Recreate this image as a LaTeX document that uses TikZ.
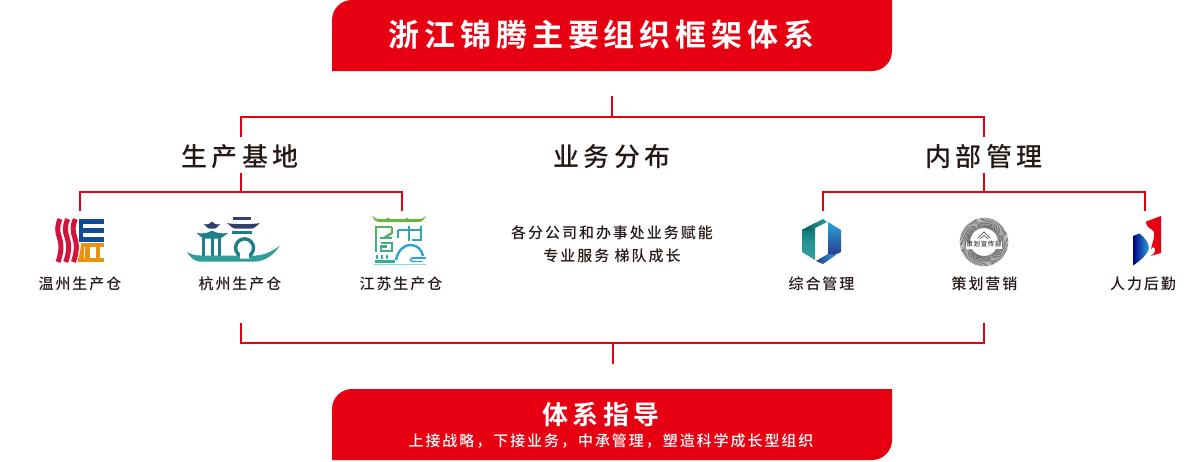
\documentclass[tikz,border=0pt]{standalone}
\usepackage{fontspec}
\setmainfont{Noto Sans CJK SC}
\newfontfamily\ftitle[LetterSpace=15.6]{Noto Sans CJK SC Bold}
\newfontfamily\fguide[LetterSpace=16.5]{Noto Sans CJK SC Bold}
\newfontfamily\fsub[LetterSpace=13]{Noto Sans CJK SC Medium}
\newfontfamily\fhead[LetterSpace=17]{Noto Sans CJK SC Medium}
\newfontfamily\flab[LetterSpace=13.2]{Noto Sans CJK SC Medium}
\newfontfamily\ftiny[LetterSpace=10]{Noto Sans CJK SC Medium}
\definecolor{brandred}{HTML}{E60012}
\definecolor{ink}{HTML}{231815}
\definecolor{wzred}{HTML}{D2143C}
\definecolor{wzblue}{HTML}{0F4C96}
\definecolor{wzorange}{HTML}{E8930F}
\definecolor{hznavy}{HTML}{33406E}
\definecolor{hzteal}{HTML}{1E7F8C}
\definecolor{hzsea}{HTML}{2F9E99}
\definecolor{jsgreen}{HTML}{6DB33F}
\definecolor{jsteal}{HTML}{35A99A}
\definecolor{jsblue}{HTML}{2AA3D6}
\tikzset{
  x=1pt,y=-1pt,
  redline/.style={draw=brandred,line width=2pt},
  banner/.style={fill=brandred},
  headtext/.style={inner sep=0,text=ink,font=\fontsize{26}{30}\selectfont\fhead},
  labeltext/.style={inner sep=0,text=ink,font=\fontsize{15}{18}\selectfont\flab},
}
\begin{document}
\begin{tikzpicture}
\useasboundingbox (0,0) rectangle (1200,461);
% banners
\fill[banner] (352,0) -- (892,0) -- (892,51) arc[start angle=0,end angle=90,radius=20] -- (332,71) -- (332,20) arc[start angle=180,end angle=270,radius=20] -- cycle;
\fill[banner] (352,389) -- (892,389) -- (892,440) arc[start angle=0,end angle=90,radius=20] -- (332,460) -- (332,409) arc[start angle=180,end angle=270,radius=20] -- cycle;
\node[inner sep=0,text=white,font=\fontsize{31}{34}\selectfont\ftitle] (title) at (601.5,35) {浙江锦腾主要组织框架体系};
\node[inner sep=0,text=white,font=\fontsize{26}{30}\selectfont\fguide] (guide) at (601,415) {体系指导};
\node[inner sep=0,text=white,font=\fontsize{15}{18}\selectfont\fsub] (guidesub) at (611,441) {上接战略，下接业务，中承管理，塑造科学成长型组织};
% headings
\node[headtext] (hbase) at (240,157) {生产基地};
\node[headtext] (hbiz) at (612,157) {业务分布};
\node[headtext] (hmgmt) at (984,157) {内部管理};
% labels
\node[labeltext] (wz) at (80,283.5) {温州生产仓};
\node[labeltext] (hz) at (240,283.5) {杭州生产仓};
\node[labeltext] (js) at (401,283.5) {江苏生产仓};
\node[labeltext] (zh) at (821.5,283.5) {综合管理};
\node[labeltext] (ch) at (984.5,283.5) {策划营销};
\node[labeltext] (rl) at (1143,283.5) {人力后勤};
\node[labeltext] (biz1) at (612,232.5) {各分公司和办事处业务赋能};
\node[labeltext] (biz2) at (612,255.5) {专业服务 梯队成长};
% connector points
\coordinate (topstub) at (612,96);
\coordinate (topmid) at (612,117);
\coordinate (tl) at (240.5,117);
\coordinate (tr) at (984,117);
\coordinate (tlend) at (240.5,137);
\coordinate (trend) at (984,137);
\coordinate (lstub) at (240.5,173);
\coordinate (lmid) at (240.5,192);
\coordinate (lw) at (80,192);
\coordinate (le) at (402,192);
\coordinate (lwend) at (80,211);
\coordinate (leend) at (402,211);
\coordinate (rstub) at (984,173);
\coordinate (rmid) at (984,192);
\coordinate (rw) at (823,192);
\coordinate (re) at (1145,192);
\coordinate (rwend) at (823,211);
\coordinate (reend) at (1145,211);
\coordinate (bl) at (241,323);
\coordinate (br) at (984,323);
\coordinate (blc) at (241,343);
\coordinate (brc) at (984,343);
\coordinate (bmid) at (613,343);
\coordinate (bstub) at (613,364);
\draw[redline] (topstub) -- (topmid);
\draw[redline] (tlend) -- (tl) -- (tr) -- (trend);
\draw[redline] (lstub) -- (lmid);
\draw[redline] (lwend) -- (lw) -- (le) -- (leend);
\draw[redline] (rstub) -- (rmid);
\draw[redline] (rwend) -- (rw) -- (re) -- (reend);
\draw[redline] (bl) -- (blc) -- (brc) -- (br);
\draw[redline] (bmid) -- (bstub);
% --- Wenzhou logo
\foreach \dx in {0,7.7,15.4}{
  \draw[wzred,line width=5pt] (60+\dx,219) .. controls (57+\dx,226) and (57+\dx,231) .. (59.5+\dx,238) .. controls (62+\dx,245) and (61+\dx,254) .. (58+\dx,262);
}
\fill[wzblue] (78.5,219) rectangle (104,223.6);
\fill[wzblue] (78.5,219) rectangle (83,241.5);
\fill[wzblue] (83,228.4) rectangle (104,232.8);
\fill[wzblue] (83,237.4) rectangle (104,241.5);
\fill[wzorange] (81,242.5) rectangle (104,246.5);
\fill[wzorange] (78,258) rectangle (104,262);
\fill[wzorange] (85,246) rectangle (89.5,259);
\fill[wzorange] (95.5,246) rectangle (100,259);
\fill[wzorange] (78,262) -- (81,246) -- (84,246) -- (84,262) -- cycle;
% --- Hangzhou logo
\fill[hznavy] (233,216.5) rectangle (251,219.5);
\fill[hznavy] (227,223) .. controls (232,224.5) and (254,224.5) .. (260,223) .. controls (257,225) and (255,228.5) .. (252,228.5) -- (235,228.5) .. controls (232,228.5) and (230,225) .. (227,223) -- cycle;
\fill[hznavy] (204,224) .. controls (208,225) and (209,224) .. (212,221.5) .. controls (215,224) and (216,225) .. (220,224) .. controls (218,226) and (217,228.5) .. (215,228.5) -- (209,228.5) .. controls (207,228.5) and (206,226) .. (204,224) -- cycle;
\fill[hzteal] (196.5,233) .. controls (204,234) and (208,233) .. (212,230.5) .. controls (216,233) and (221,234) .. (228,233) .. controls (225,235) and (222,238.5) .. (219,238.5) -- (205,238.5) .. controls (202,238.5) and (199,235) .. (196.5,233) -- cycle;
\foreach \cx in {203.5,212.5,219}{\fill[hzteal] (\cx-1.5,238) rectangle (\cx+1.5,256);}
\fill[hzteal] (232,230.5) rectangle (252,233.5);
\draw[hzteal,line width=3.4pt] (238.2,258) -- (238.2,254.2) arc[start angle=135,end angle=405,radius=9] -- (250.8,258);
\fill[hzsea] (187,252) .. controls (190,254) and (195,255.5) .. (200,255.5) -- (239.5,255.5) -- (239.5,258.5) -- (249.5,258.5) -- (249.5,255.5) -- (256,255.5) .. controls (265,255) and (273,251) .. (280,245.5) .. controls (275,253) and (268,260) .. (257,261.5) -- (199,261.5) .. controls (194,261) and (190,257) .. (187,252) -- cycle;
% --- Jiangsu logo
\fill[jsgreen] (372,216) .. controls (375,218) and (376,219) .. (380,219) -- (386,219) -- (388,217.5) -- (390,219) -- (405,219) -- (407,217.5) -- (409,219) -- (418,219) .. controls (422,219) and (424,218) .. (426,216) .. controls (424,220) and (422,222) .. (418,222) -- (380,222) .. controls (376,222) and (374,220) .. (372,216) -- cycle;
\begin{scope}[line width=2.4pt]
\draw[jsgreen!70!jsteal] (376,236) -- (376,227) -- (392,227);
\draw[jsgreen!70!jsteal] (392,227) -- (392,233) -- (384,238);
\draw[jsteal!75!jsgreen] (376,236) -- (376,252) ;
\draw[jsteal!75!jsgreen] (380,238) -- (392,238);
\draw[jsteal!75!jsgreen] (381,243) -- (392,243) -- (392,251) -- (381,251) -- (381,246.5) -- (387,246.5);
\draw[jsteal] (377,255) -- (377,259) ;
\draw[jsteal] (382,255) -- (382,259) ;
\draw[jsteal] (387,255) -- (387,259) ;
\draw[jsteal] (375,261.5) -- (395,261.5);
\draw[jsteal!60!jsblue] (398,230) -- (421,230);
\draw[jsteal!60!jsblue] (398,230) -- (398,238);
\draw[jsteal!60!jsblue] (409,226) -- (409,241);
\draw[jsteal!60!jsblue] (421,226) -- (421,240) -- (412,240);
\draw[jsblue] (396,260) .. controls (398,251) and (403,245) .. (411,245) .. controls (417,245) and (422,250) .. (423,256);
\end{scope}
\draw[jsblue,line width=1.4pt] (412,258) -- (426,258);
\draw[jsblue,line width=1.4pt] (412,258) .. controls (409,260) and (410,261.5) .. (414,261.5) -- (422,261.5);
\draw[jsteal!50!white,line width=1.5pt] (374,264.5) -- (426,264.5);
% --- Zonghe logo
\shade[bottom color=hzsea,top color=teal!80!black,middle color=teal!85!white] (802,230) -- (815,223) -- (815,260) -- (802,252) -- cycle;
\shade[left color=teal!70!black,right color=hzsea] (802,230) -- (823,219) -- (827,222) -- (815,228) -- (815,231) -- cycle;
\shade[top color=jsblue,bottom color=hznavy!80!blue] (828,222) -- (841,230) -- (841,252) -- (828,258) -- cycle;
\shade[left color=hznavy!80!blue,right color=jsblue] (816,261) -- (828,254) -- (836,255) -- (823,264) -- cycle;
% --- Cehua logo
\foreach \a in {0,3,...,357}{
  \draw[black!62,line width=.6pt] (984,242)++(\a:14) -- ++(\a+28:11);
}
\fill[white] (966,240.5) rectangle (1002,249);
\draw[black!60,line width=.8pt] (978,238) -- (984,232) -- (990,238);
\draw[black!60,line width=.8pt] (980,239) -- (984,235.5) -- (988,239);
\node[inner sep=0,text=black!80,font=\fontsize{6.5}{8}\selectfont\ftiny] (chlogo) at (984,244.5) {策划宣传部};
% --- HR logo
\fill[brandred] (1145.7,221.7) -- (1161,216) -- (1161,253) -- (1150.5,256) .. controls (1154,254) and (1156,251) .. (1155,248.5) .. controls (1154,246) and (1152,247) .. (1151,249) .. controls (1152,243) and (1155,238) .. (1154,232) .. controls (1153,229) and (1147,229) .. (1145.7,221.7) -- cycle;
\shade[left color=blue!55!black,right color=jsblue] (1133,236) -- (1139.5,233.5) .. controls (1145,238) and (1149,243) .. (1149,248) .. controls (1148,254) and (1140,261) .. (1133,265.5) -- cycle;
\end{tikzpicture}
\end{document}
